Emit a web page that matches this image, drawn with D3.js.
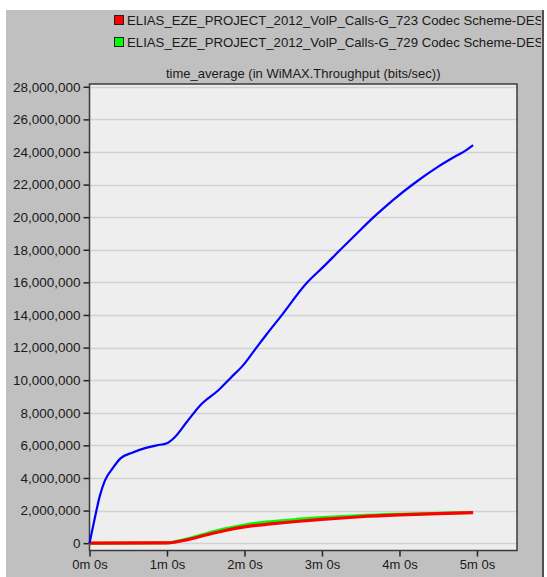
<!DOCTYPE html>
<html><head><meta charset="utf-8">
<script src="https://cdn.jsdelivr.net/npm/d3@7"></script>
<style>body{margin:0;background:#fff;}svg{display:block;font-family:"Liberation Sans",Arial,sans-serif;}</style>
</head><body>
<svg id="c" width="547" height="577"></svg>
<script>
const legendLabels = [
  "ELIAS_EZE_PROJECT_2012_VolP_Calls-G_723 Codec Scheme-DES",
  "ELIAS_EZE_PROJECT_2012_VolP_Calls-G_729 Codec Scheme-DES"
];
const legendColors = ["#ff0000", "#00ff00"];
const title = "time_average (in WiMAX.Throughput (bits/sec))";
const yTicks = [0,2e6,4e6,6e6,8e6,10e6,12e6,14e6,16e6,18e6,20e6,22e6,24e6,26e6,28e6];
const xTicks = [0,60,120,180,240,300];
const xTickLabels = ["0m 0s","1m 0s","2m 0s","3m 0s","4m 0s","5m 0s"];

// blue series (time s, bits/sec)
const blueT = [0,4,8,12,18,24,33,43,52,60,66,75,86,100,110,118,128,137,148,168,181,194,207,220,235,251,270,283,292,297];
const blueV = [0,1.5e6,2.9e6,3.85e6,4.6e6,5.2e6,5.55e6,5.83e6,6.0e6,6.13e6,6.5e6,7.4e6,8.48e6,9.4e6,10.2e6,10.83e6,11.86e6,12.8e6,13.9e6,15.95e6,16.95e6,17.98e6,19.0e6,20.0e6,21.05e6,22.05e6,23.1e6,23.72e6,24.13e6,24.42e6];
// G.729 (green)
const greenT = [0,60,75,90,105,120,140,160,180,210,240,270,297];
const greenV = [0,0.02e6,0.25e6,0.58e6,0.88e6,1.12e6,1.32e6,1.46e6,1.57e6,1.7e6,1.78e6,1.84e6,1.88e6];
// G.723 (red)
const redT = [0,60,75,90,105,120,140,160,180,210,240,270,297];
const redV = [0,0.02e6,0.2e6,0.5e6,0.78e6,1.0e6,1.18e6,1.33e6,1.46e6,1.62e6,1.73e6,1.81e6,1.87e6];

const svg = d3.select("#c");
// gray panel
svg.append("rect").attr("x",6).attr("y",10).attr("width",536).attr("height",567).attr("fill","#c0c0c0");
svg.append("line").attr("x1",543).attr("x2",543).attr("y1",10).attr("y2",577).attr("stroke","#505050").attr("stroke-width",2);

const L=89.5, R=517, T=84, B=550.5;
const x = d3.scaleLinear().domain([0,331]).range([L,R]);
const y = d3.scaleLinear().domain([-0.45e6,28.17e6]).range([B,T]);

svg.append("rect").attr("x",L).attr("y",T).attr("width",R-L).attr("height",B-T).attr("fill","#eeeeee");
// grid
svg.append("g").selectAll("line").data(yTicks).join("line")
  .attr("x1",L).attr("x2",R).attr("y1",d=>Math.round(y(d))+0.5).attr("y2",d=>Math.round(y(d))+0.5)
  .attr("stroke","#d2d2d2").attr("stroke-width",1.5);

// axes
const yAxis = d3.axisLeft(y).tickValues(yTicks).tickSize(6).tickPadding(3).tickFormat(d3.format(","));
const gy = svg.append("g").attr("transform",`translate(${L},0)`).call(yAxis);
const xAxis = d3.axisBottom(x).tickValues(xTicks).tickSize(6).tickPadding(3).tickFormat((d,i)=>xTickLabels[i]);
const gx = svg.append("g").attr("transform",`translate(0,${B})`).call(xAxis);
[gx,gy].forEach(g=>{
  g.select(".domain").remove();
  g.selectAll("line").attr("stroke","#222").attr("stroke-width",1.5);
  g.selectAll("text").attr("fill","#1a1a1a").style("font-size","13px").style("font-family","'Liberation Sans',Arial,sans-serif");
});
gy.selectAll("text").style("font-size","13.5px");

// frame
svg.append("rect").attr("x",L).attr("y",T).attr("width",R-L).attr("height",B-T)
  .attr("fill","none").attr("stroke","#3a3a3a").attr("stroke-width",1.5);

const line = d3.line().x(d=>x(d[0])).y(d=>y(d[1])).curve(d3.curveMonotoneX);
const zip=(a,b)=>a.map((t,i)=>[t,b[i]]);
svg.append("path").attr("d",line(zip(greenT,greenV))).attr("fill","none").attr("stroke","#00ff00").attr("stroke-width",3);
svg.append("path").attr("d",line(zip(redT,redV))).attr("fill","none").attr("stroke","#ff0000").attr("stroke-width",3.2);
svg.append("path").attr("d",line(zip(blueT,blueV))).attr("fill","none").attr("stroke","#0000ff").attr("stroke-width",2.2);

// title
svg.append("text").attr("x",(L+R)/2).attr("y",78).attr("text-anchor","middle")
  .style("font-size","13px").attr("fill","#1a1a1a").text(title);

// legend
svg.append("clipPath").attr("id","lc").append("rect").attr("x",0).attr("y",0).attr("width",541).attr("height",60);
const lg = svg.append("g").attr("clip-path","url(#lc)");
legendLabels.forEach((lab,i)=>{
  const yy = 15 + i*22;
  lg.append("rect").attr("x",114.5).attr("y",yy+0.5).attr("width",9).attr("height",9)
    .attr("fill",legendColors[i]).attr("stroke","#222").attr("stroke-width",1);
  lg.append("text").attr("x",127).attr("y",yy+10).style("font-size","13.2px").attr("fill","#1a1a1a").text(lab);
});
</script>
</body></html>
